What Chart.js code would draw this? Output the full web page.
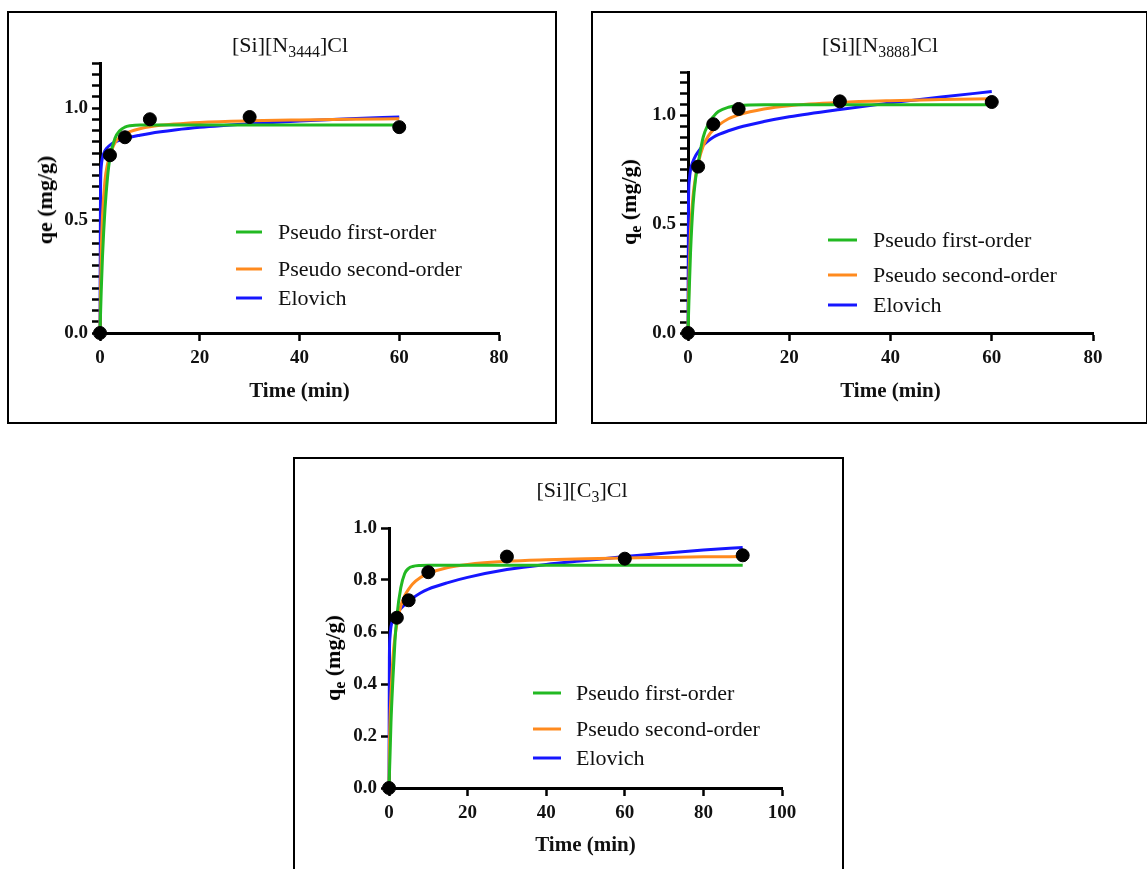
<!DOCTYPE html>
<html>
<head>
<meta charset="utf-8">
<script src="https://cdn.jsdelivr.net/npm/chart.js@4.4.1/dist/chart.umd.min.js"></script>
<style>
  body { margin: 0; background: #fff; width: 1147px; height: 869px; overflow: hidden; position: relative; font-family: 'Liberation Serif', serif; }
  .panel { position: absolute; border: 2px solid #000; background: #fff; }
  .panel canvas { position: absolute; left: 0; top: 0; }
  .ptitle { position: absolute; font-size: 22px; transform: translate(-50%, -50%); white-space: nowrap; color: #111; }
  .ptitle sub { font-size: 0.72em; vertical-align: -0.3em; line-height: 0; }
  .ytitle { position: absolute; font-size: 22px; font-weight: bold; transform: translate(-50%, -50%) rotate(-90deg); white-space: nowrap; }
  .ytitle sub { font-size: 0.72em; vertical-align: -0.3em; line-height: 0; }
</style>
</head>
<body>

<div class="panel" style="left:7px;top:11px;width:546px;height:409px;">
  <canvas id="chart1" width="546" height="409"></canvas>
  <div class="ptitle" style="left:281px;top:32px;">[Si][N<sub>3444</sub>]Cl</div>
  <div class="ytitle" style="left:36px;top:187px;">qe (mg/g)</div>
</div>

<div class="panel" style="left:591px;top:11px;width:553px;height:409px;">
  <canvas id="chart2" width="553" height="409"></canvas>
  <div class="ptitle" style="left:287px;top:32px;">[Si][N<sub>3888</sub>]Cl</div>
  <div class="ytitle" style="left:36px;top:189px;">q<sub>e</sub> (mg/g)</div>
</div>

<div class="panel" style="left:293px;top:457px;width:547px;height:416px;">
  <canvas id="chart3" width="547" height="416"></canvas>
  <div class="ptitle" style="left:287px;top:31px;">[Si][C<sub>3</sub>]Cl</div>
  <div class="ytitle" style="left:38px;top:199px;">q<sub>e</sub> (mg/g)</div>
</div>

<script>
// model names
const modelLabels = ['Pseudo first-order', 'Pseudo second-order', 'Elovich'];
const modelColors = ['#22b922', '#ff8a1e', '#1616ff'];

// [Si][N3444]Cl
const expTime1 = [0, 2, 5, 10, 30, 60];
const expQ1 = [0, 0.79, 0.87, 0.95, 0.96, 0.915];
const fitTime1 = [0, 0.1, 0.25, 0.5, 1, 1.5, 2, 3, 4, 5, 6, 8, 10, 15, 20, 30, 40, 50, 60];
const pfo1 = [0, 0.08, 0.19, 0.34, 0.55, 0.69, 0.78, 0.865, 0.9, 0.915, 0.921, 0.925, 0.925, 0.925, 0.925, 0.925, 0.925, 0.925, 0.925];
const pso1 = [0, 0.18, 0.36, 0.52, 0.68, 0.75, 0.79, 0.845, 0.87, 0.885, 0.895, 0.908, 0.917, 0.929, 0.936, 0.943, 0.947, 0.95, 0.952];
const elo1 = [0, 0.62, 0.74, 0.78, 0.81, 0.825, 0.835, 0.848, 0.857, 0.864, 0.87, 0.879, 0.887, 0.902, 0.914, 0.93, 0.942, 0.952, 0.96];

// [Si][N3888]Cl
const expTime2 = [0, 2, 5, 10, 30, 60];
const expQ2 = [0, 0.765, 0.96, 1.03, 1.065, 1.062];
const fitTime2 = [0, 0.1, 0.25, 0.5, 1, 1.5, 2, 3, 4, 5, 6, 8, 10, 15, 20, 30, 40, 50, 60];
const pfo2 = [0, 0.08, 0.2, 0.37, 0.59, 0.71, 0.78, 0.9, 0.96, 0.995, 1.018, 1.038, 1.046, 1.05, 1.05, 1.05, 1.05, 1.05, 1.05];
const pso2 = [0, 0.15, 0.3, 0.47, 0.63, 0.72, 0.78, 0.86, 0.905, 0.935, 0.955, 0.985, 1.003, 1.03, 1.045, 1.06, 1.068, 1.073, 1.077];
const elo2 = [0, 0.6, 0.7, 0.75, 0.79, 0.815, 0.833, 0.863, 0.884, 0.9, 0.912, 0.93, 0.945, 0.972, 0.994, 1.028, 1.058, 1.085, 1.11];

// [Si][C3]Cl
const expTime3 = [0, 2, 5, 10, 30, 60, 90];
const expQ3 = [0, 0.655, 0.722, 0.83, 0.89, 0.882, 0.895];
const fitTime3 = [0, 0.1, 0.25, 0.5, 1, 1.5, 2, 3, 4, 5, 6, 8, 10, 15, 20, 30, 40, 50, 60, 70, 80, 90];
const pfo3 = [0, 0.05, 0.12, 0.25, 0.42, 0.56, 0.66, 0.77, 0.825, 0.845, 0.852, 0.856, 0.857, 0.857, 0.857, 0.857, 0.857, 0.857, 0.857, 0.857, 0.857, 0.857];
const pso3 = [0, 0.15, 0.26, 0.36, 0.5, 0.58, 0.63, 0.7, 0.74, 0.765, 0.785, 0.81, 0.825, 0.848, 0.86, 0.872, 0.878, 0.882, 0.885, 0.887, 0.889, 0.89];
const elo3 = [0, 0.5, 0.58, 0.62, 0.645, 0.66, 0.672, 0.69, 0.705, 0.718, 0.73, 0.75, 0.765, 0.79, 0.81, 0.84, 0.86, 0.875, 0.89, 0.903, 0.915, 0.925];

const serif = 'Liberation Serif';

function toXY(xs, ys) {
    return xs.map((x, i) => ({ x: x, y: ys[i] }));
}

// legend drawn at fixed spots inside the plot
const fixedLegend = {
    id: 'fixedLegend',
    afterDatasetsDraw(chart, args, opts) {
        const ctx = chart.ctx;
        ctx.save();
        ctx.font = '22px "' + serif + '"';
        ctx.textBaseline = 'middle';
        ctx.fillStyle = '#111';
        opts.rows.forEach((y, i) => {
            const ds = chart.data.datasets[i + 1];
            ctx.strokeStyle = ds.borderColor;
            ctx.lineWidth = 3;
            ctx.beginPath();
            ctx.moveTo(opts.x0, y);
            ctx.lineTo(opts.x1, y);
            ctx.stroke();
            ctx.fillText(ds.label, opts.tx, y + 1);
        });
        ctx.restore();
    }
};

function makeChart(id, p) {
    const fits = [p.pfo, p.pso, p.elo];
    const datasets = [{
        label: 'Experimental',
        data: toXY(p.expTime, p.expQ),
        showLine: false,
        pointRadius: 6.5,
        pointBorderWidth: 1,
        pointBackgroundColor: '#000',
        pointBorderColor: '#000',
        clip: false
    }];
    fits.forEach((vals, i) => {
        datasets.push({
            label: modelLabels[i],
            data: toXY(p.fitTime, vals),
            borderColor: modelColors[i],
            borderWidth: 3,
            pointRadius: 0,
            fill: false,
            cubicInterpolationMode: 'monotone',
            clip: 4
        });
    });

    new Chart(document.getElementById(id), {
        type: 'line',
        data: { datasets: datasets },
        plugins: [fixedLegend],
        options: {
            responsive: false,
            animation: false,
            events: [],
            layout: { padding: { top: p.area.top, right: p.area.right, left: 0, bottom: 0 } },
            plugins: {
                legend: { display: false },
                tooltip: { enabled: false },
                fixedLegend: p.legend
            },
            scales: {
                x: {
                    type: 'linear',
                    min: 0,
                    max: p.xMax,
                    afterFit: s => { s.height = p.area.xh; },
                    ticks: {
                        stepSize: 20,
                        color: '#111',
                        padding: 6,
                        font: { family: serif, size: 19, weight: 'bold' }
                    },
                    grid: { drawOnChartArea: false, tickLength: 8, tickColor: '#000', tickWidth: 2.5 },
                    border: { color: '#000', width: 3 },
                    title: {
                        display: true,
                        text: 'Time (min)',
                        color: '#111',
                        padding: { top: 0, bottom: p.area.titlePad },
                        font: { family: serif, size: 21, weight: 'bold' }
                    }
                },
                y: {
                    min: 0,
                    max: p.yMax,
                    afterFit: s => { s.width = p.area.left; },
                    ticks: {
                        stepSize: p.yStep,
                        autoSkip: false,
                        maxTicksLimit: 100,
                        color: '#111',
                        padding: 4,
                        font: { family: serif, size: 19, weight: 'bold' },
                        callback: v => {
                            const k = v / p.yLabelStep;
                            return Math.abs(k - Math.round(k)) < 1e-6 ? v.toFixed(1) : '';
                        }
                    },
                    grid: { drawOnChartArea: false, tickLength: 8, tickColor: '#000', tickWidth: 2.5 },
                    border: { color: '#000', width: 3 }
                }
            }
        }
    });
}

makeChart('chart1', {
    expTime: expTime1, expQ: expQ1, fitTime: fitTime1, pfo: pfo1, pso: pso1, elo: elo1,
    xMax: 80, yMax: 1.2, yStep: 0.05, yLabelStep: 0.5,
    area: { left: 91, top: 50, right: 56, xh: 89, titlePad: 18 },
    legend: { x0: 227, x1: 253, tx: 269, rows: [219, 256, 285] }
});

makeChart('chart2', {
    expTime: expTime2, expQ: expQ2, fitTime: fitTime2, pfo: pfo2, pso: pso2, elo: elo2,
    xMax: 80, yMax: 1.2, yStep: 0.05, yLabelStep: 0.5,
    area: { left: 95, top: 59, right: 53, xh: 89, titlePad: 18 },
    legend: { x0: 235, x1: 264, tx: 280, rows: [227, 262, 292] }
});

makeChart('chart3', {
    expTime: expTime3, expQ: expQ3, fitTime: fitTime3, pfo: pfo3, pso: pso3, elo: elo3,
    xMax: 100, yMax: 1.0, yStep: 0.2, yLabelStep: 0.2,
    area: { left: 94, top: 69, right: 60, xh: 87, titlePad: 17 },
    legend: { x0: 238, x1: 266, tx: 281, rows: [234, 270, 299] }
});
</script>
</body>
</html>
